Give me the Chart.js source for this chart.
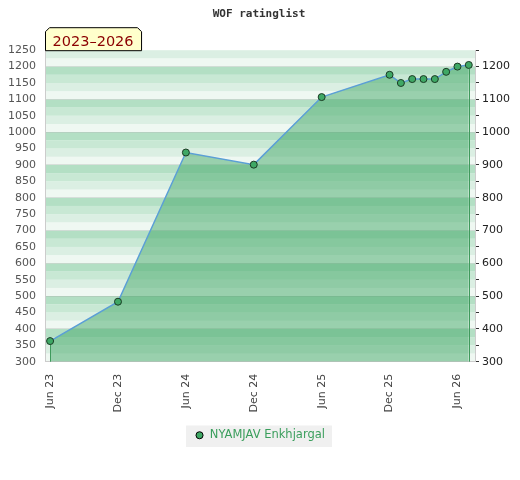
<!DOCTYPE html>
<html>
<head>
<meta charset="utf-8">
<script src="https://cdn.jsdelivr.net/npm/chart.js@4/dist/chart.umd.min.js"></script>
<style>
  html, body { margin: 0; padding: 0; background: #fff; }
  #wrap { width: 520px; height: 480px; }
</style>
</head>
<body>
<div id="wrap"><canvas id="ratingChart"></canvas></div>
<script>
// months counted from Jun 2023
const monthIndex = [0, 6, 12, 18, 24, 30, 31, 32, 33, 34, 35, 36, 37];
const ratings = [363, 483, 938, 901, 1107, 1175, 1150, 1162, 1162, 1162, 1184, 1200, 1205];
const tickMonths = [0, 6, 12, 18, 24, 30, 36];
const tickLabels = ['Jun 23', 'Dec 23', 'Jun 24', 'Dec 24', 'Jun 25', 'Dec 25', 'Jun 26'];
const playerName = 'NYAMJAV Enkhjargal';
const periodLabel = '2023–2026';

// stripe shades inside every 100 band, from bottom to top
const stripeColors = ['#eff8f2', '#dbefe3', '#c8e8d4', '#b3dfc4'];

const stripes = {
  id: 'stripes',
  beforeDraw(chart) {
    const { ctx, chartArea: a, scales: { y } } = chart;
    ctx.save();
    for (let v = y.min; v < y.max; v += 25) {
      const top = y.getPixelForValue(v + 25);
      const bottom = y.getPixelForValue(v);
      ctx.fillStyle = stripeColors[(v % 100) / 25];
      ctx.fillRect(a.left, top, a.right - a.left, bottom - top);
    }
    // legend background
    const box = chart.legend.legendHitBoxes[0];
    if (box) {
      ctx.fillStyle = '#f0f0f0';
      ctx.fillRect(box.left - 9, box.top - 4, box.width + 16, box.height + 10);
    }
    ctx.restore();
  }
};

const edges = {
  id: 'edges',
  afterDatasetsDraw(chart) {
    const { ctx, chartArea: a } = chart;
    const pts = chart.getDatasetMeta(0).data;
    ctx.save();
    ctx.strokeStyle = '#3f9a5c';
    ctx.lineWidth = 1;
    [pts[0], pts[pts.length - 1]].forEach(p => {
      ctx.beginPath();
      ctx.moveTo(Math.round(p.x) + 0.5, p.y + 4);
      ctx.lineTo(Math.round(p.x) + 0.5, a.bottom);
      ctx.stroke();
    });
    ctx.restore();
  }
};

const periodTag = {
  id: 'periodTag',
  afterDraw(chart) {
    const { ctx, chartArea: a } = chart;
    ctx.save();
    ctx.font = '14.5px "DejaVu Sans"';
    const w = ctx.measureText(periodLabel).width + 15;
    const x0 = a.left + 0.5, x1 = a.left + w + 0.5;
    const y0 = a.top - 23 + 0.5, y1 = a.top + 0.5;
    const c = 4;
    ctx.beginPath();
    ctx.moveTo(x0, y1);
    ctx.lineTo(x0, y0 + c);
    ctx.lineTo(x0 + c, y0);
    ctx.lineTo(x1 - c, y0);
    ctx.lineTo(x1, y0 + c);
    ctx.lineTo(x1, y1);
    ctx.closePath();
    ctx.fillStyle = '#ffffcc';
    ctx.fill();
    ctx.strokeStyle = '#000';
    ctx.lineWidth = 1;
    ctx.stroke();
    ctx.fillStyle = '#8b0000';
    ctx.textBaseline = 'alphabetic';
    ctx.fillText(periodLabel, x0 + 7, y1 - 5);
    ctx.restore();
  }
};

const ctx = document.getElementById('ratingChart').getContext('2d');

new Chart(ctx, {
  type: 'line',
  data: {
    datasets: [{
      label: playerName,
      data: monthIndex.map((m, i) => ({ x: m, y: ratings[i] })),
      borderColor: '#5b9fd6',
      borderWidth: 1.5,
      backgroundColor: 'rgba(67,167,104,0.5)',
      fill: 'start',
      tension: 0,
      pointRadius: 3.5,
      pointBackgroundColor: '#3fa865',
      pointBorderColor: '#1b3b24',
      pointBorderWidth: 1
    }]
  },
  options: {
    responsive: true,
    maintainAspectRatio: false,
    animation: false,
    layout: { padding: { left: 8, right: 10, top: 0, bottom: 29 } },
    plugins: {
      title: {
        display: true,
        text: 'WOF ratinglist',
        color: '#333',
        font: { family: '"DejaVu Sans Mono"', size: 11, weight: 'bold' },
        padding: { top: 8, bottom: 29 }
      },
      legend: {
        display: true,
        position: 'bottom',
        fullSize: false,
        labels: {
          usePointStyle: true,
          boxWidth: 9,
          boxHeight: 5,
          color: '#3a9e5c',
          font: { family: '"DejaVu Sans"', size: 11.5 },
          padding: 13,
          generateLabels: () => [{
            text: playerName,
            fillStyle: '#3fa865',
            strokeStyle: '#000',
            lineWidth: 1,
            pointStyle: 'circle',
            fontColor: '#3a9e5c',
            datasetIndex: 0
          }]
        }
      },
      tooltip: { enabled: false }
    },
    scales: {
      x: {
        type: 'linear',
        min: -0.45,
        max: 37.55,
        afterBuildTicks: (axis) => { axis.ticks = tickMonths.map(v => ({ value: v })); },
        ticks: {
          autoSkip: false,
          minRotation: 90,
          maxRotation: 90,
          padding: 4,
          color: '#444',
          font: { family: '"DejaVu Sans"', size: 11 },
          callback: (v) => tickLabels[tickMonths.indexOf(v)]
        },
        grid: { display: false },
        border: { color: '#ccc' }
      },
      y: {
        position: 'left',
        min: 300,
        max: 1250,
        afterFit: (axis) => { axis.width = 37; },
        ticks: {
          stepSize: 50,
          autoSkip: false,
          padding: 9,
          color: '#555',
          font: { family: '"DejaVu Sans"', size: 11 },
          callback: (v) => String(v)
        },
        grid: { display: false, drawTicks: false },
        border: { color: '#ccc' }
      },
      y2: {
        position: 'right',
        min: 300,
        max: 1250,
        afterFit: (axis) => { axis.width = 35; },
        ticks: {
          stepSize: 50,
          autoSkip: false,
          padding: 3,
          color: '#222',
          font: { family: '"DejaVu Sans"', size: 11 },
          callback: (v) => (v % 100 === 0 && v <= 1200 ? String(v) : '')
        },
        grid: {
          drawOnChartArea: true,
          color: (c) => (c.tick && c.tick.value % 100 === 0 ? 'rgba(0,0,0,0.1)' : 'rgba(0,0,0,0)'),
          tickColor: '#333',
          tickLength: 4
        },
        border: { color: '#ccc' }
      }
    }
  },
  plugins: [stripes, edges, periodTag]
});
</script>
</body>
</html>
